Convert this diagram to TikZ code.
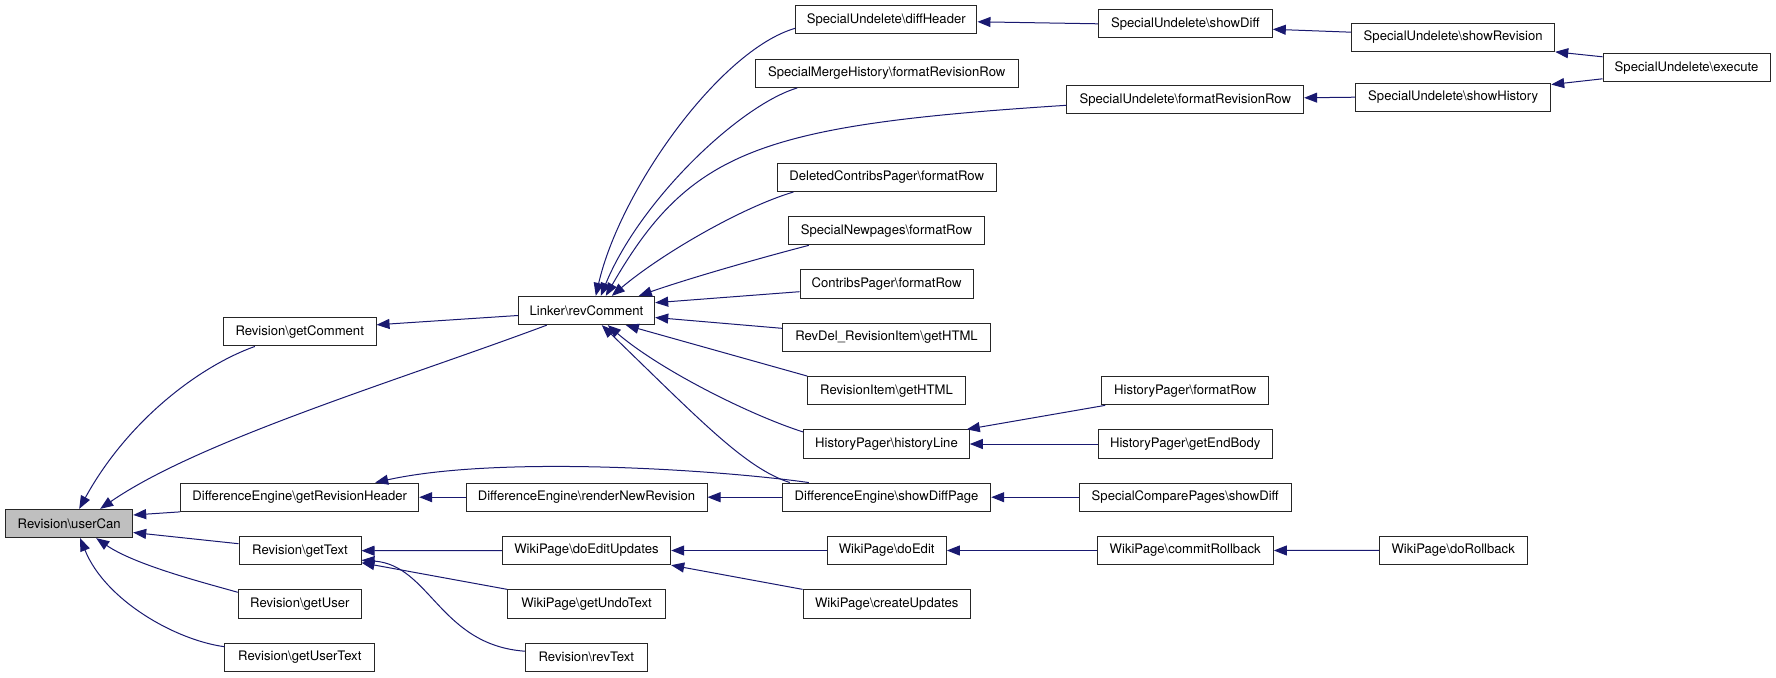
\documentclass[tikz,border=0pt]{standalone}
\usepackage{fontspec}
\setmainfont{TeX Gyre Heros}
\usetikzlibrary{arrows.meta}
\definecolor{edgeblue}{RGB}{25,25,112}
\newcommand{\BSL}{\textbackslash{}}
\tikzset{
  box/.style={draw=black!85, line width=1pt, fill=white, minimum height=28.3pt, inner sep=0pt, font=\fontsize{13.1}{15}\selectfont, text=black},
  focus/.style={box, fill=black!25},
  edge/.style={draw=edgeblue, line width=1pt, -{Triangle[length=13pt,width=10pt]}}
}
\begin{document}
\begin{tikzpicture}[x=1pt,y=-1pt]
\useasboundingbox[fill=white] (0,0) rectangle (1776,677);
% column 0
\node[focus, minimum width=127pt] (userCan) at (69.2,523.5) {Revision\BSL userCan};
% column 1
\node[box, minimum width=152.7pt] (getComment) at (299.7,331.8) {Revision\BSL getComment};
\node[box, minimum width=238pt] (getRevisionHeader) at (299.7,497.2) {DifferenceEngine\BSL getRevisionHeader};
\node[box, minimum width=122pt] (getText) at (300,550.7) {Revision\BSL getText};
\node[box, minimum width=123pt] (getUser) at (299.8,604) {Revision\BSL getUser};
\node[box, minimum width=149.7pt] (getUserText) at (299.8,657.2) {Revision\BSL getUserText};
% column 2
\node[box, minimum width=136.4pt] (revComment) at (586.5,310.5) {Linker\BSL revComment};
\node[box, minimum width=241pt] (renderNewRevision) at (586.5,497.2) {DifferenceEngine\BSL renderNewRevision};
\node[box, minimum width=168.4pt] (doEditUpdates) at (586.5,550.5) {WikiPage\BSL doEditUpdates};
\node[box, minimum width=157.6pt] (getUndoText) at (586.5,604) {WikiPage\BSL getUndoText};
\node[box, minimum width=122pt] (revText) at (586.3,657.2) {Revision\BSL revText};
% column 3
\node[box, minimum width=181.3pt] (diffHeader) at (886.3,19.8) {SpecialUndelete\BSL diffHeader};
\node[box, minimum width=263.3pt] (mergeFRR) at (886.7,73.3) {SpecialMergeHistory\BSL formatRevisionRow};
\node[box, minimum width=219.3pt] (deletedContribs) at (886.7,177.3) {DeletedContribsPager\BSL formatRow};
\node[box, minimum width=195.6pt] (newpages) at (886.5,230.7) {SpecialNewpages\BSL formatRow};
\node[box, minimum width=173pt] (contribsPager) at (886.5,284) {ContribsPager\BSL formatRow};
\node[box, minimum width=208.4pt] (revDel) at (886.5,337.3) {RevDel\_RevisionItem\BSL getHTML};
\node[box, minimum width=157.6pt] (revisionItem) at (886.5,390.7) {RevisionItem\BSL getHTML};
\node[box, minimum width=165.6pt] (historyLine) at (886.5,444) {HistoryPager\BSL historyLine};
\node[box, minimum width=208.4pt] (showDiffPage) at (886.5,497.2) {DifferenceEngine\BSL showDiffPage};
\node[box, minimum width=119.3pt] (doEdit) at (886.7,550.5) {WikiPage\BSL doEdit};
\node[box, minimum width=167.3pt] (createUpdates) at (886.7,604) {WikiPage\BSL createUpdates};
% column 4
\node[box, minimum width=174pt] (showDiff) at (1185.3,23.8) {SpecialUndelete\BSL showDiff};
\node[box, minimum width=236.7pt] (undFRR) at (1185.3,99.8) {SpecialUndelete\BSL formatRevisionRow};
\node[box, minimum width=167pt] (hpFormatRow) at (1185.2,390.7) {HistoryPager\BSL formatRow};
\node[box, minimum width=173.7pt] (getEndBody) at (1185.2,444) {HistoryPager\BSL getEndBody};
\node[box, minimum width=211.7pt] (comparePages) at (1185.2,497.2) {SpecialComparePages\BSL showDiff};
\node[box, minimum width=176.3pt] (commitRollback) at (1185.2,550.5) {WikiPage\BSL commitRollback};
% column 5
\node[box, minimum width=203pt] (showRevision) at (1453.2,37.2) {SpecialUndelete\BSL showRevision};
\node[box, minimum width=195pt] (showHistory) at (1453.2,97.2) {SpecialUndelete\BSL showHistory};
\node[box, minimum width=147.7pt] (doRollback) at (1453.2,550.4) {WikiPage\BSL doRollback};
% column 6
\node[box, minimum width=167pt] (execute) at (1686.5,67.8) {SpecialUndelete\BSL execute};

% edges into userCan
\draw[edge] ([xshift=32pt]getComment.south west) .. controls (200,366) and (128,420) .. ([xshift=74pt]userCan.north west);
\draw[edge] ([xshift=29pt]revComment.south west) .. controls (400,380) and (200,440) .. ([xshift=95pt]userCan.north west);
\draw[edge] (getRevisionHeader.south west) -- ([yshift=8.5pt]userCan.east);
\draw[edge] ([yshift=7pt]getText.west) -- ([yshift=-9pt]userCan.east);
\draw[edge] ([yshift=11.7pt]getUser.west) .. controls (205,583) and (135,565) .. ([xshift=91pt]userCan.south west);
\draw[edge] ([yshift=10.5pt]getUserText.west) .. controls (175,640) and (105,600) .. ([xshift=75pt]userCan.south west);
% into column 1
\draw[edge] ([yshift=-5pt]revComment.west) -- ([yshift=7pt]getComment.east);
\draw[edge] ([xshift=27pt]showDiffPage.north west) .. controls (720,470) and (500,455) .. ([xshift=195pt]getRevisionHeader.north west);
\draw[edge] (renderNewRevision.west) -- (getRevisionHeader.east);
\draw[edge] (doEditUpdates.west) -- (getText.east);
\draw[edge] (getUndoText.north west) -- ([yshift=-12pt]getText.east);
\draw[edge] ([yshift=6pt]revText.west) .. controls (440,645) and (430,565) .. ([yshift=-9.5pt]getText.east);
% into revComment
\draw[edge] ([yshift=-8.5pt]diffHeader.west) .. controls (720,50) and (620,190) .. ([xshift=78pt]revComment.north west);
\draw[edge] ([xshift=42.7pt]mergeFRR.south west) .. controls (740,105) and (640,200) .. ([xshift=83pt]revComment.north west);
\draw[edge] ([yshift=-5.5pt]undFRR.west) .. controls (760,125) and (690,150) .. ([xshift=88pt]revComment.north west);
\draw[edge] ([xshift=17pt]deletedContribs.south west) .. controls (740,208) and (660,255) .. ([xshift=94pt]revComment.north west);
\draw[edge] ([xshift=20.6pt]newpages.south west) .. controls (760,258) and (690,278) .. ([xshift=121pt]revComment.north west);
\draw[edge] ([yshift=-7.7pt]contribsPager.west) -- ([yshift=7.8pt]revComment.east);
\draw[edge] ([yshift=9pt]revDel.west) -- ([yshift=-7pt]revComment.east);
\draw[edge] (revisionItem.north west) -- ([xshift=108pt]revComment.south west);
\draw[edge] ([yshift=12pt]historyLine.west) .. controls (750,415) and (660,370) .. ([xshift=90pt]revComment.south west);
\draw[edge] ([xshift=8pt]showDiffPage.north west) .. controls (745,468) and (700,420) .. ([xshift=84pt]revComment.south west);
% column 2 inputs
\draw[edge] (showDiffPage.west) -- (renderNewRevision.east);
\draw[edge] (doEdit.west) -- (doEditUpdates.east);
\draw[edge] (createUpdates.north west) -- (doEditUpdates.south east);
% column 3 inputs
\draw[edge] (showDiff.west) -- ([yshift=-2pt]diffHeader.east);
\draw[edge] ([xshift=4pt]hpFormatRow.south west) -- ([xshift=-3pt]historyLine.north east);
\draw[edge] (getEndBody.west) -- (historyLine.east);
\draw[edge] (comparePages.west) -- (showDiffPage.east);
\draw[edge] (commitRollback.west) -- (doEdit.east);
% column 4 inputs
\draw[edge] ([yshift=5pt]showRevision.west) -- ([yshift=-5.5pt]showDiff.east);
\draw[edge] (showHistory.west) -- ([yshift=2pt]undFRR.east);
\draw[edge] (doRollback.west) -- (commitRollback.east);
% column 5 inputs
\draw[edge] ([yshift=11pt]execute.west) -- (showRevision.south east);
\draw[edge] ([yshift=-11pt]execute.west) -- ([yshift=-2pt]showHistory.north east);
\end{tikzpicture}
\end{document}
